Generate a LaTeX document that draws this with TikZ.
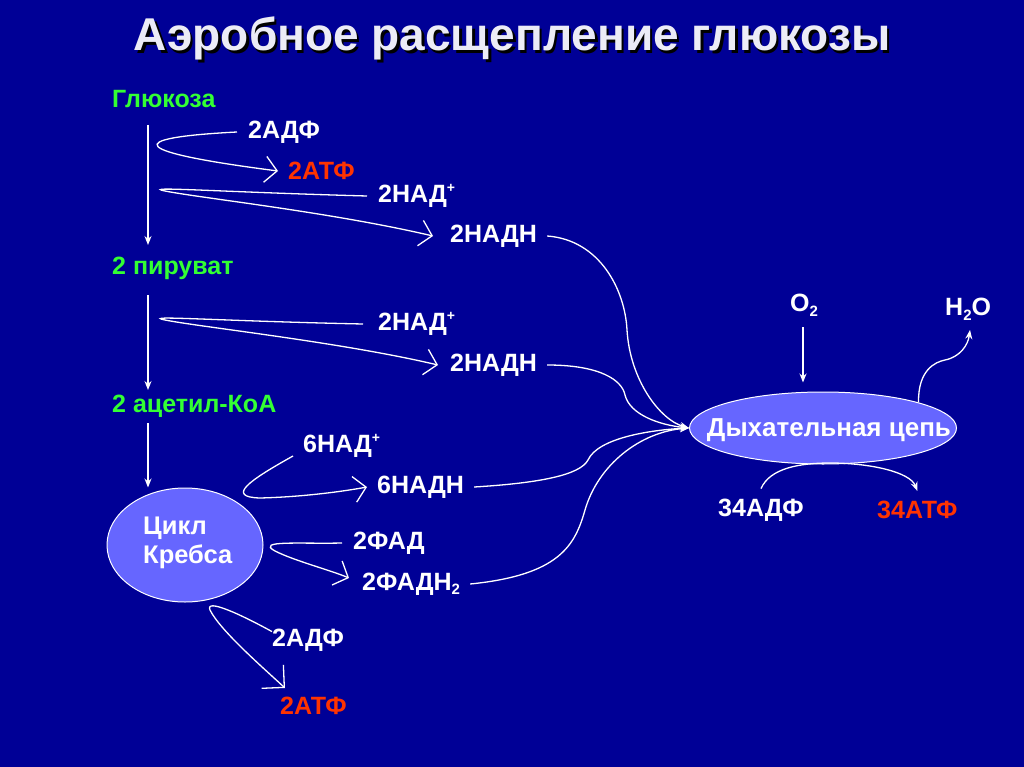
\documentclass[tikz,border=0pt]{standalone}
\usepackage{fontspec}
\setmainfont{Liberation Sans}
\usetikzlibrary{arrows.meta,calc,shapes.geometric}
\definecolor{bg}{RGB}{0,0,150}
\definecolor{grn}{RGB}{51,255,51}
\definecolor{rd}{RGB}{255,51,0}
\definecolor{ell}{RGB}{102,102,255}
\definecolor{ttl}{RGB}{236,236,246}
\newcommand{\sbs}[1]{\raisebox{-0.35ex}{\fontsize{15}{15}\selectfont #1}}
\newcommand{\sps}[1]{\raisebox{0.75ex}{\fontsize{14}{14}\selectfont #1}}
\newcommand{\shadowtext}[1]{\makebox[0pt][l]{\hspace{2.5pt}\raisebox{-2.5pt}{\color{black}#1}}#1}
\tikzset{
  lbl/.style={anchor=west, inner sep=0pt, text=white, font=\fontsize{25}{28}\selectfont\bfseries},
  glbl/.style={lbl, text=grn},
  rlbl/.style={lbl, text=rd},
  conn/.style={draw=white, line width=1.3pt, -{Straight Barb[length=12pt,width=26pt,line width=1.3pt]}},
  flow/.style={draw=white, line width=1.3pt, -{Stealth[length=9pt,width=7pt]}},
  oval/.style={ellipse, draw=white, line width=1pt, fill=ell, inner sep=0pt},
  ovaltext/.style={inner sep=0pt, text=white, font=\fontsize{26}{29}\selectfont\bfseries},
}
\begin{document}
\begin{tikzpicture}[x=1pt,y=-1pt]
\fill[bg] (0,0) rectangle (1024,767);
\useasboundingbox (0,0) rectangle (1024,767);
% title (with shadow)
\node[text=ttl, font=\fontsize{46}{50}\selectfont\bfseries] (title) at (512,40) {\shadowtext{Аэробное расщепление глюкозы}};
% left column
\node[glbl] (glu) at (112,99) {Глюкоза};
\node[glbl] (pyr) at (112,268) {2 пируват};
\node[glbl] (acoa) at (112,406) {2 ацетил-КоА};
\node[oval, minimum width=156pt, minimum height=114pt] (krebs) at (185,545) {};
\node[ovaltext, anchor=west, align=left, font=\fontsize{25.5}{29}\selectfont\bfseries] (krebstxt) at (143,543) {Цикл\\Кребса};
% glycolysis
\node[lbl] (adf1) at (248,132) {2АДФ};
\node[rlbl] (atf1) at (288,171) {2АТФ};
\node[lbl] (nad1) at (378,196) {2НАД\sps{+}};
\node[lbl] (nadh1) at (450,236) {2НАДН};
% pyruvate
\node[lbl] (nad2) at (378,324) {2НАД\sps{+}};
\node[lbl] (nadh2) at (450,365) {2НАДН};
% krebs products
\node[lbl] (nad3) at (303,446) {6НАД\sps{+}};
\node[lbl] (nadh3) at (377,487) {6НАДН};
\node[lbl] (fad) at (353,543) {2ФАД};
\node[lbl] (fadh) at (362,584) {2ФАДН\sbs{2}};
\node[lbl] (adf2) at (272,640) {2АДФ};
\node[rlbl] (atf2) at (280,706) {2АТФ};
% respiratory chain
\node[oval, minimum width=267pt, minimum height=72pt] (dc) at (823,428) {};
\node[ovaltext] (dctxt) at (829,430) {Дыхательная цепь};
\node[lbl] (o2) at (790,305) {O\sbs{2}};
\node[lbl] (h2o) at (945,309) {H\sbs{2}O};
\node[lbl] (adf34) at (718,510) {34АДФ};
\node[rlbl] (atf34) at (877,510) {34АТФ};
% main vertical arrows
\draw[flow] (148,125) -- (148,245);
\draw[flow] (148,295) -- (148,390);
\draw[flow] (148,423) -- (krebs.north -| 148,0);
% glycolysis loops
\draw[conn] ([xshift=-11pt]adf1.west) .. controls (120,138) and (130,152) .. ([xshift=-10pt]atf1.west);
\draw[conn] ([xshift=-11pt]nad1.west) .. controls (220,192) and (140,186) .. (165,191) .. controls (200,198) and (330,212) .. ([xshift=-17pt]nadh1.west);
\draw[conn] ([xshift=-15pt]nad2.west) .. controls (220,321) and (140,315) .. (165,320) .. controls (200,327) and (340,342) .. ([xshift=-12pt]nadh2.west);
% krebs loops
\draw[conn] ([xshift=-10pt,yshift=-10pt]nad3.west) .. controls (250,480) and (225,497) .. (260,498) .. controls (300,497) and (340,492) .. ([xshift=-10pt]nadh3.west);
\draw[conn] ([xshift=-11pt]fad.west) .. controls (300,544) and (255,540) .. (275,551) .. controls (295,561) and (330,570) .. ([xshift=-13pt,yshift=6pt]fadh.west);
\draw[draw=white, line width=1.3pt, -{Straight Barb[length=16pt,width=32pt,line width=1.3pt]}] ([yshift=-3pt]adf2.north west) .. controls (240,614) and (205,598) .. (210,610) .. controls (220,630) and (260,665) .. (285,688);
% to respiratory chain
\draw[flow] ([xshift=10pt]nadh1.east) .. controls (600,240) and (625,290) .. (627,330) .. controls (630,380) and (660,420) .. (dc.west);
\draw[flow] ([xshift=10pt]nadh2.east) .. controls (600,365) and (622,380) .. (625,395) .. controls (630,415) and (660,425) .. (dc.west);
\draw[flow] ([xshift=10pt]nadh3.east) .. controls (540,483) and (580,475) .. (588,460) .. controls (598,438) and (650,430) .. (dc.west);
\draw[flow] ([xshift=10pt]fadh.east) .. controls (560,575) and (575,545) .. (585,510) .. controls (598,465) and (640,432) .. (dc.west);
% O2, H2O, ATP
\draw[flow] (803,327) -- ([yshift=9pt]dc.north -| 803,0);
\draw[flow] (dc.15) .. controls (918,370) and (935,362) .. (945,360) .. controls (960,357) and (968,345) .. (970,330);
\draw[flow] ([yshift=10pt]adf34.north) .. controls (770,468) and (800,463) .. (830,463) .. controls (870,463) and (910,472) .. ([yshift=10pt]atf34.north);
\end{tikzpicture}
\end{document}
